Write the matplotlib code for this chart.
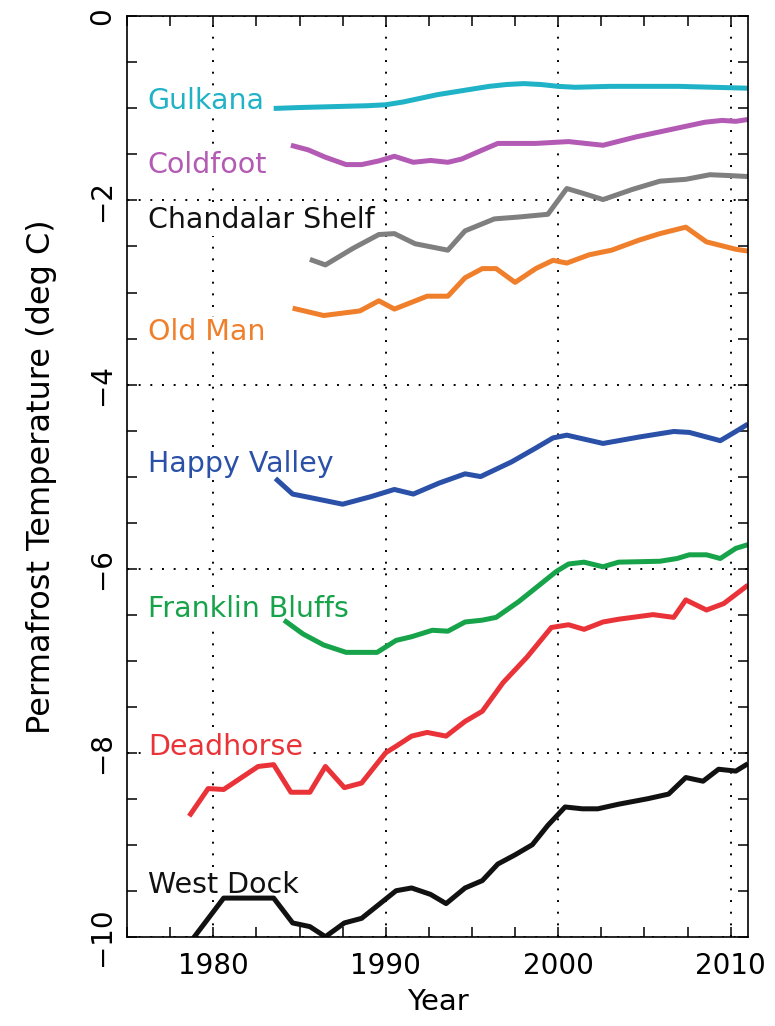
import matplotlib.pyplot as plt
from matplotlib.ticker import MultipleLocator

# Permafrost temperature records, Alaska (year, deg C)
gulkana_yr = [1983.5, 1985, 1987, 1989, 1990, 1991, 1992, 1993, 1994, 1995, 1996, 1997, 1998,
              1999, 2000, 2001, 2003, 2005, 2007, 2009, 2011]
gulkana_t = [-1.0, -0.99, -0.98, -0.97, -0.96, -0.93, -0.89, -0.85, -0.82, -0.79, -0.76, -0.74,
             -0.73, -0.74, -0.76, -0.77, -0.76, -0.76, -0.76, -0.77, -0.78]

coldfoot_yr = [1984.5, 1985.5, 1986.5, 1987.7, 1988.6, 1989.6, 1990.5, 1991.6, 1992.6, 1993.6,
               1994.4, 1995.5, 1996.5, 1998.7, 2000.6, 2002.6, 2004.5, 2006, 2007.5, 2008.5,
               2009.5, 2010.3, 2011]
coldfoot_t = [-1.40, -1.45, -1.53, -1.61, -1.61, -1.57, -1.52, -1.585, -1.565, -1.585, -1.55,
              -1.46, -1.38, -1.38, -1.36, -1.40, -1.31, -1.25, -1.19, -1.15, -1.13, -1.14, -1.12]

chandalar_yr = [1985.6, 1986.5, 1988.1, 1989.6, 1990.5, 1991.7, 1993.6, 1994.6, 1996.3, 1997.7,
                1999.4, 2000.5, 2001.4, 2002.6, 2004.3, 2005.9, 2007.4, 2008.8, 2010.0, 2011]
chandalar_t = [-2.64, -2.70, -2.52, -2.37, -2.36, -2.47, -2.54, -2.33, -2.20, -2.18, -2.15,
               -1.87, -1.92, -1.99, -1.88, -1.79, -1.77, -1.72, -1.73, -1.74]

oldman_yr = [1984.6, 1986.4, 1988.5, 1989.6, 1990.5, 1992.4, 1993.6, 1994.6, 1995.6, 1996.4,
             1997.5, 1998.7, 1999.7, 2000.5, 2001.8, 2003.1, 2004.7, 2005.9, 2007.4, 2008.6,
             2010.3, 2011]
oldman_t = [-3.17, -3.25, -3.20, -3.09, -3.18, -3.04, -3.04, -2.84, -2.74, -2.74, -2.89, -2.74,
            -2.65, -2.68, -2.59, -2.54, -2.43, -2.36, -2.29, -2.45, -2.53, -2.55]

happy_yr = [1983.6, 1984.6, 1985.4, 1987.5, 1989.1, 1990.5, 1991.6, 1993.1, 1994.6, 1995.5,
            1997.3, 1998.7, 1999.7, 2000.5, 2002.6, 2004.7, 2006.7, 2007.6, 2009.4, 2010.3, 2011]
happy_t = [-5.02, -5.19, -5.22, -5.30, -5.22, -5.14, -5.19, -5.07, -4.97, -5.0, -4.84, -4.69,
           -4.58, -4.55, -4.64, -4.57, -4.51, -4.52, -4.61, -4.51, -4.43]

franklin_yr = [1984.1, 1985.2, 1986.4, 1987.7, 1989.5, 1990.6, 1991.5, 1992.7, 1993.6, 1994.6,
               1995.6, 1996.4, 1997.7, 1998.9, 1999.9, 2000.6, 2001.5, 2002.6, 2003.5, 2005.9,
               2006.9, 2007.6, 2008.6, 2009.4, 2010.3, 2011]
franklin_t = [-6.56, -6.71, -6.83, -6.91, -6.91, -6.78, -6.74, -6.67, -6.68, -6.58, -6.56, -6.53,
              -6.36, -6.18, -6.03, -5.95, -5.93, -5.98, -5.93, -5.92, -5.89, -5.85, -5.85, -5.89,
              -5.78, -5.74]

deadhorse_yr = [1978.6, 1979.7, 1980.6, 1982.6, 1983.5, 1984.5, 1985.6, 1986.5, 1987.6, 1988.6,
                1990.0, 1990.6, 1991.5, 1992.4, 1993.5, 1994.6, 1995.6, 1996.8, 1998.2, 1999.6,
                2000.6, 2001.5, 2002.6, 2003.5, 2005.5, 2006.7, 2007.4, 2008.6, 2009.6, 2011]
deadhorse_t = [-8.69, -8.39, -8.40, -8.15, -8.13, -8.43, -8.43, -8.15, -8.38, -8.33, -8.0, -7.93,
               -7.82, -7.78, -7.82, -7.66, -7.55, -7.24, -6.96, -6.64, -6.61, -6.66, -6.58, -6.55,
               -6.50, -6.53, -6.34, -6.45, -6.38, -6.18]

westdock_yr = [1978.7, 1980.6, 1983.5, 1984.6, 1985.6, 1986.5, 1987.6, 1988.6, 1990.0, 1990.6,
               1991.5, 1992.6, 1993.5, 1994.6, 1995.6, 1996.5, 1997.5, 1998.5, 1999.4, 2000.4,
               2001.4, 2002.3, 2003.5, 2005.2, 2006.4, 2007.4, 2008.4, 2009.3, 2010.3, 2011]
westdock_t = [-10.05, -9.58, -9.58, -9.85, -9.89, -10.0, -9.85, -9.80, -9.59, -9.50, -9.47, -9.54,
              -9.64, -9.47, -9.39, -9.21, -9.11, -9.00, -8.79, -8.59, -8.61, -8.61, -8.56, -8.50,
              -8.45, -8.27, -8.31, -8.18, -8.20, -8.12]

# name, years, temps, line colour, label colour, label baseline
sites = [
    ('Gulkana', gulkana_yr, gulkana_t, '#20b2c6', '#20b2c6', -1.01),
    ('Coldfoot', coldfoot_yr, coldfoot_t, '#b35ab4', '#b35ab4', -1.70),
    ('Chandalar Shelf', chandalar_yr, chandalar_t, '#7f7f7f', '#111111', -2.30),
    ('Old Man', oldman_yr, oldman_t, '#f07f2c', '#f07f2c', -3.52),
    ('Happy Valley', happy_yr, happy_t, '#2a50a8', '#2a50a8', -4.95),
    ('Franklin Bluffs', franklin_yr, franklin_t, '#17a34a', '#17a34a', -6.53),
    ('Deadhorse', deadhorse_yr, deadhorse_t, '#ea3338', '#ea3338', -8.02),
    ('West Dock', westdock_yr, westdock_t, '#111111', '#111111', -9.52),
]

fig = plt.figure(figsize=(7.75, 10.26), dpi=100)
ax = fig.add_axes([0.164, 0.087, 0.801, 0.897])

for name, yr, t, c, tc, ty in sites:
    ax.plot(yr, t, color=c, linewidth=3.6, solid_joinstyle='round', solid_capstyle='butt',
            zorder=3)
    # labels sit on a white patch so the dotted grid breaks around them
    ax.text(1976.2, ty, name, color=tc, fontsize=20.5, va='baseline', ha='left', zorder=2.5,
            bbox=dict(facecolor='white', edgecolor='none', pad=1))

ax.set_xlim(1975, 2011)
ax.set_ylim(-10, 0)
ax.xaxis.set_major_locator(MultipleLocator(10))
ax.xaxis.set_minor_locator(MultipleLocator(2.5))
ax.yaxis.set_major_locator(MultipleLocator(2))
ax.yaxis.set_minor_locator(MultipleLocator(0.5))
ax.set_axisbelow(True)
ax.grid(True, which='major', color='black', linestyle=(0, (1, 5)), linewidth=1.4)

ax.tick_params(which='both', direction='in', top=True, right=True, length=7, width=1.1,
               labelsize=20)
ax.tick_params(axis='x', pad=11)
ax.tick_params(axis='y', pad=8)
for lab in ax.get_yticklabels():
    lab.set_rotation(90)
    lab.set_va('center')

for s in ax.spines.values():
    s.set_linewidth(1.2)
    s.set_zorder(4)

ax.set_xlabel('Year', fontsize=21, labelpad=6)
ax.set_ylabel('Permafrost Temperature (deg C)', fontsize=23, labelpad=22)

fig.savefig('out.png', dpi=100)
